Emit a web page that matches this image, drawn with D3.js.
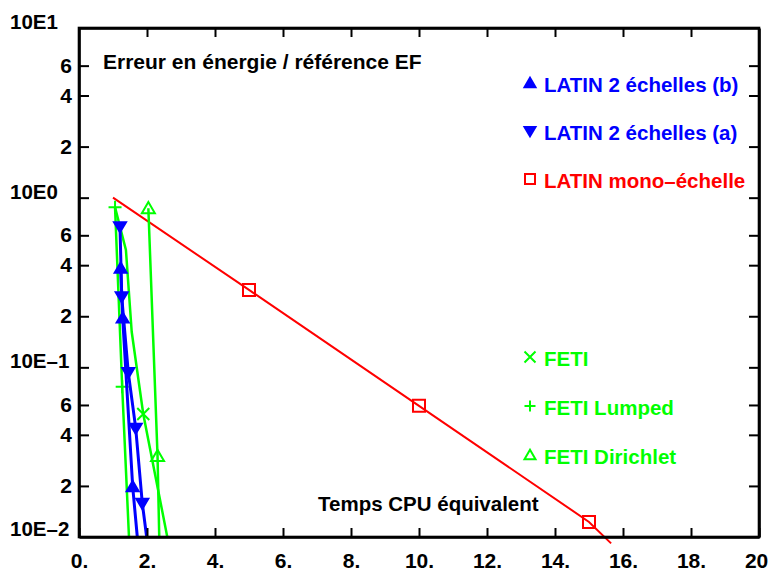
<!DOCTYPE html>
<html><head><meta charset="utf-8">
<script src="https://cdn.jsdelivr.net/npm/d3@7"></script>
<style>body{margin:0;background:#fff}svg{display:block;font-family:"Liberation Sans",Arial,sans-serif;font-weight:bold}</style>
</head><body><svg id="c" width="769" height="577"></svg>
<script>
// ---- data ----
const xTicks = [0, 2, 4, 6, 8, 10, 12, 14, 16, 18, 20];
const yTicks = [0.01, 0.02, 0.04, 0.06, 0.1, 0.2, 0.4, 0.6, 1, 2, 4, 6, 10];
const decadeLabels = ["10E\u20132", "10E\u20131", "10E0", "10E1"];
const decadeValues = [0.01, 0.1, 1, 10];

const latinMonoX = [1.0, 5.0, 10.0, 15.0, 15.65];
const latinMonoY = [1.0, 0.286, 0.0593, 0.01227, 0.00917];
const latinMonoMark = [0, 1, 1, 1, 0];

const latinAX = [1.206, 1.256, 1.45, 1.668, 1.862, 1.99];
const latinAY = [0.675, 0.261, 0.0931, 0.0438, 0.0158, 0.01];
const latinAMark = [1, 1, 1, 1, 1, 0];

const latinBX = [1.226, 1.285, 1.579, 1.715];
const latinBY = [0.384, 0.195, 0.0198, 0.01];
const latinBMark = [1, 1, 1, 0];

const fetiX = [1.06, 1.38, 1.55, 1.89, 2.597];
const fetiY = [0.878, 0.492, 0.162, 0.0531, 0.01];
const fetiMark = [0, 0, 0, 1, 0];

const lumpedX = [1.06, 1.27, 1.47];
const lumpedY = [0.878, 0.0769, 0.01];
const lumpedMark = [1, 1, 0];

const dirichletX = [2.04, 2.31, 2.36];
const dirichletY = [0.866, 0.030, 0.01];
const dirichletMark = [1, 1, 0];

const legendNames = ["LATIN 2 \u00e9chelles (b)", "LATIN 2 \u00e9chelles (a)", "LATIN mono\u2013\u00e9chelle", "FETI", "FETI Lumped", "FETI Dirichlet"];

// ---- layout ----
const L = 79, R = 759, T = 28, B = 537;
const x = d3.scaleLinear().domain([0, 20]).range([L, R]);
const y = d3.scaleLog().domain([0.01, 10]).range([B, T]);
const svg = d3.select("#c");

const RED = "#ff0000", GREEN = "#00ff00", BLUE = "#0000ff";

function markerPath(type, s) {
  const h = s / 2;
  switch (type) {
    case "up": return `M0,${-h*0.95}L${h},${h*0.75}L${-h},${h*0.75}Z`;
    case "down": return `M0,${h*0.95}L${h},${-h*0.75}L${-h},${-h*0.75}Z`;
    case "square": return `M${-h},${-h}H${h}V${h}H${-h}Z`;
    case "x": return `M${-h},${-h}L${h},${h}M${h},${-h}L${-h},${h}`;
    case "plus": return `M${-h},0H${h}M0,${-h}V${h}`;
  }
}

const series = [
  {xs: latinMonoX, ys: latinMonoY, mk: latinMonoMark, color: RED, w: 2, type: "square", fill: "none", size: 12},
  {xs: fetiX, ys: fetiY, mk: fetiMark, color: GREEN, w: 2.5, type: "x", fill: "none", size: 12},
  {xs: lumpedX, ys: lumpedY, mk: lumpedMark, color: GREEN, w: 2.5, type: "plus", fill: "none", size: 13},
  {xs: dirichletX, ys: dirichletY, mk: dirichletMark, color: GREEN, w: 2.5, type: "up", fill: "none", size: 13},
  {xs: latinAX, ys: latinAY, mk: latinAMark, color: BLUE, w: 3, type: "down", fill: BLUE, size: 12},
  {xs: latinBX, ys: latinBY, mk: latinBMark, color: BLUE, w: 3, type: "up", fill: BLUE, size: 12},
];

const line = d3.line().x(d => x(d[0])).y(d => y(d[1]));
series.forEach(s => {
  const pts = s.xs.map((v, i) => [v, s.ys[i], s.mk[i]]);
  svg.append("path").datum(pts).attr("d", line)
    .attr("fill", "none").attr("stroke", s.color).attr("stroke-width", s.w);
  svg.selectAll(null).data(pts.filter(p => p[2])).enter().append("path")
    .attr("transform", p => `translate(${x(p[0])},${y(p[1])})`)
    .attr("d", markerPath(s.type, s.size))
    .attr("fill", s.fill).attr("stroke", s.color).attr("stroke-width", 2);
});

// ---- axes ----
const axW = 2.6;
const gB = svg.append("g").attr("transform", `translate(0,${B})`)
  .call(d3.axisBottom(x).tickValues(xTicks).tickSizeInner(-9).tickSizeOuter(0).tickPadding(16).tickFormat(d => d + "."));
const gT = svg.append("g").attr("transform", `translate(0,${T})`)
  .call(d3.axisTop(x).tickValues(xTicks.slice(1, -1)).tickSizeInner(-9).tickSizeOuter(0).tickFormat(""));
const gL = svg.append("g").attr("transform", `translate(${L},0)`)
  .call(d3.axisLeft(y).tickValues(yTicks.slice(1, -1)).tickSizeInner(-10).tickSizeOuter(0).tickFormat(""));
const gR = svg.append("g").attr("transform", `translate(${R},0)`)
  .call(d3.axisRight(y).tickValues(yTicks.slice(1, -1)).tickSizeInner(-10).tickSizeOuter(0).tickFormat(""));
[gB, gT, gL, gR].forEach(g => {
  g.select(".domain").attr("stroke", "#000").attr("stroke-width", axW);
  g.selectAll(".tick line").attr("stroke", "#000").attr("stroke-width", 2);
});
gB.selectAll(".tick text").attr("font-size", 21).attr("font-weight", "bold").attr("fill", "#000")
  .attr("font-family", '"Liberation Sans",Arial,sans-serif');
svg.append("rect").attr("x", L).attr("y", T).attr("width", R - L).attr("height", B - T)
  .attr("fill", "none").attr("stroke", "#000").attr("stroke-width", axW);

// y labels
const minor = yTicks.filter(v => !decadeValues.includes(v));
svg.selectAll(null).data(minor).enter().append("text")
  .attr("x", 72).attr("y", d => y(d) + 7).attr("text-anchor", "end")
  .attr("font-size", 21).text(d => String(Math.round(d / Math.pow(10, Math.floor(Math.log10(d) + 1e-9)))));
svg.selectAll(null).data(decadeValues).enter().append("text")
  .attr("x", 10).attr("y", (d, i) => y(d) + 1 - (i === 0 ? 2 : 0))
  .attr("font-size", 20.5).text((d, i) => decadeLabels[i]);

// titles
svg.append("text").attr("x", 103).attr("y", 69).attr("font-size", 21).text("Erreur en \u00e9nergie / r\u00e9f\u00e9rence EF");
svg.append("text").attr("x", 318).attr("y", 511).attr("font-size", 20.5).text("Temps CPU \u00e9quivalent");

// legend
const legend = [
  {name: legendNames[0], color: BLUE, type: "up", fill: BLUE, y: 85},
  {name: legendNames[1], color: BLUE, type: "down", fill: BLUE, y: 133},
  {name: legendNames[2], color: RED, type: "square", fill: "none", y: 181},
  {name: legendNames[3], color: GREEN, type: "x", fill: "none", y: 359},
  {name: legendNames[4], color: GREEN, type: "plus", fill: "none", y: 408},
  {name: legendNames[5], color: GREEN, type: "up", fill: "none", y: 457},
];
legend.forEach(d => {
  svg.append("path").attr("transform", `translate(530,${d.y - 2})`)
    .attr("d", markerPath(d.type, d.type === "square" ? 10 : 11))
    .attr("fill", d.fill).attr("stroke", d.color).attr("stroke-width", 2);
  svg.append("text").attr("x", 544).attr("y", d.y + 7).attr("font-size", 20.5).attr("fill", d.color).text(d.name);
});
</script></body></html>
